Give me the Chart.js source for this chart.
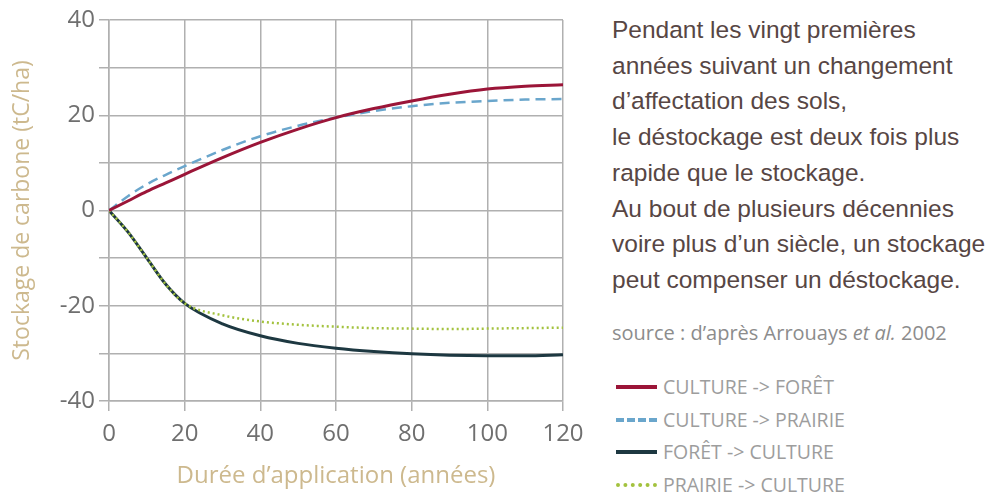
<!DOCTYPE html>
<html lang="fr">
<head>
<meta charset="utf-8">
<script src="https://cdn.jsdelivr.net/npm/chart.js@4/dist/chart.umd.min.js"></script>
<style>
  html, body { margin: 0; padding: 0; background: #fff; }
  #wrap { position: relative; width: 987px; height: 493px; overflow: hidden; }
  #chart-box { position: absolute; left: 0; top: 0; width: 600px; height: 493px; }
  .note {
    position: absolute; left: 612px; top: 12px; width: 375px; white-space: nowrap;
    font-family: "Liberation Sans", Arial, sans-serif;
    font-size: 24.5px; line-height: 35.7px; color: #574644;
  }
  .source {
    position: absolute; left: 612px; top: 319px; white-space: nowrap;
    font-family: "Open Sans", sans-serif; font-size: 20px; color: #8c8c8c;
  }
  .legend { position: absolute; left: 616px; top: 373px; }
  .legend-row { position: relative; height: 32.7px; }
  .legend-row .swatch { position: absolute; left: 0; top: 12px; width: 41px; height: 0; }
  .legend-row span {
    position: absolute; left: 47px; top: 0; white-space: nowrap; line-height: 28px;
    font-family: "Open Sans", sans-serif; font-size: 19.5px; color: #9d9d9d;
  }
</style>
</head>
<body>
<div id="wrap">
  <div id="chart-box"><canvas id="chart-carbone"></canvas></div>
  <div class="note">
    Pendant les vingt premières<br>
    années suivant un changement<br>
    d’affectation des sols,<br>
    le déstockage est deux fois plus<br>
    rapide que le stockage.<br>
    Au bout de plusieurs décennies<br>
    voire plus d’un siècle, un stockage<br>
    peut compenser un déstockage.
  </div>
  <div class="source">source : d’après Arrouays <i>et al.</i> 2002</div>
  <div class="legend" id="legend"></div>
</div>
<script>
// Durée d'application (années)
const years = [0, 5, 10, 15, 20, 30, 40, 50, 60, 70, 80, 90, 100, 110, 120];

// Stockage de carbone (tC/ha)
const cultureForet   = [0, 2.0, 4.0, 5.8, 7.6, 11.1, 14.3, 17.1, 19.5, 21.4, 23.0, 24.4, 25.5, 26.1, 26.4];
const culturePrairie = [0, 3.0, 5.5, 7.5, 9.3, 12.7, 15.6, 17.8, 19.5, 20.9, 21.9, 22.6, 23.0, 23.3, 23.4];
const foretCulture   = [0, -4.5, -10.0, -15.5, -19.5, -23.8, -26.3, -27.9, -28.9, -29.6, -30.1, -30.4, -30.5, -30.5, -30.3];
const prairieCulture = [0, -4.5, -10.0, -15.5, -19.5, -22.0, -23.3, -24.0, -24.4, -24.7, -24.8, -24.9, -24.8, -24.7, -24.6];

const xTicks = [0, 20, 40, 60, 80, 100, 120];
const yLabelled = [-40, -20, 0, 20, 40];

const series = [
  { label: 'CULTURE -> FORÊT',   data: cultureForet,   color: '#9b1538', width: 3,   dash: [],      css: 'solid',  order: 0 },
  { label: 'CULTURE -> PRAIRIE', data: culturePrairie, color: '#6aa6cc', width: 2.5, dash: [10, 6], css: 'dashed', order: 1 },
  { label: 'FORÊT -> CULTURE',   data: foretCulture,   color: '#1d3841', width: 3,   dash: [],      css: 'solid',  order: 3 },
  { label: 'PRAIRIE -> CULTURE', data: prairieCulture, color: '#a3c23e', width: 2.5, dash: [2, 3],  css: 'dotted', order: 2 },
];

const gridColor = '#b0b0b0';
const tickColor = '#6f6f6f';
const titleColor = '#cdb98e';

new Chart(document.getElementById('chart-carbone'), {
  type: 'line',
  data: {
    datasets: series.map(s => ({
      label: s.label,
      data: years.map((x, i) => ({ x, y: s.data[i] })),
      borderColor: s.color,
      borderWidth: s.width,
      borderDash: s.dash,
      pointRadius: 0,
      cubicInterpolationMode: 'monotone',
      order: s.order,
    }))
  },
  options: {
    responsive: true, maintainAspectRatio: false,
    animation: false,
    layout: { padding: { top: 20, right: 37, left: 0, bottom: 0 } },
    plugins: { legend: { display: false }, tooltip: { enabled: false } },
    scales: {
      x: {
        type: 'linear', min: 0, max: 120,
        afterBuildTicks: scale => { scale.ticks = xTicks.map(v => ({ value: v })); },
        afterFit: scale => { scale.height = 92; },
        grid: { color: gridColor, lineWidth: 1.5, tickLength: 10 },
        border: { color: gridColor, width: 1.5 },
        ticks: { color: tickColor, padding: 9, font: { family: 'Open Sans', size: 24 } },
        title: {
          display: true, text: 'Durée d’application (années)', color: titleColor,
          font: { family: 'Open Sans', size: 24 }, padding: { top: 0, bottom: 2 }
        }
      },
      y: {
        min: -40, max: 40,
        ticks: {
          stepSize: 10, color: tickColor, padding: 4,
          font: { family: 'Open Sans', size: 24 },
          callback: v => yLabelled.includes(v) ? v : ''
        },
        afterFit: scale => { scale.width = 109; },
        grid: { color: gridColor, lineWidth: 1.5, tickLength: 10 },
        border: { color: gridColor, width: 1.5 },
        title: {
          display: true, text: 'Stockage de carbone (tC/ha)', color: titleColor,
          font: { family: 'Open Sans', size: 23 }, padding: { top: 9, bottom: 0 }
        }
      }
    }
  }
});

// legend rows beside the note
const legendEl = document.getElementById('legend');
series.forEach(s => {
  const row = document.createElement('div');
  row.className = 'legend-row';
  const sw = document.createElement('div');
  sw.className = 'swatch';
  sw.style.borderTop = `${Math.round(s.width + 1)}px ${s.css} ${s.color}`;
  const txt = document.createElement('span');
  txt.textContent = s.label;
  row.appendChild(sw);
  row.appendChild(txt);
  legendEl.appendChild(row);
});
</script>
</body>
</html>
